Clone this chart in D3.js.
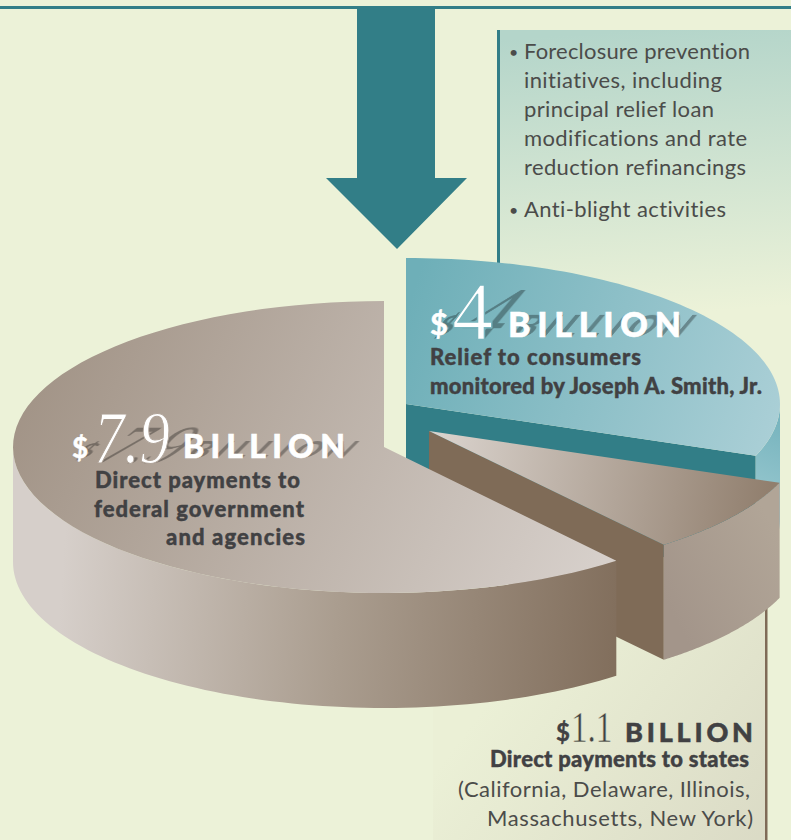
<!DOCTYPE html>
<html>
<head>
<meta charset="utf-8">
<title>Settlement allocation</title>
<script src="https://cdn.jsdelivr.net/npm/d3@7"></script>
<style>
html,body{margin:0;padding:0;background:#ecf2d8;overflow:hidden}
svg{display:block}
text{font-variant-ligatures:none;font-kerning:normal}
</style>
</head>
<body>
<svg id="chart" width="791" height="840"></svg>
<script>
// Allocation, in billions of dollars, in the order the slices run clockwise from 12 o'clock
const sliceKeys = ["consumers", "states", "federal"];
const sliceValues = [4, 1.1, 7.9];
const bulletLines = [
  "Foreclosure prevention", "initiatives, including", "principal relief loan",
  "modifications and rate", "reduction refinancings", "Anti-blight activities"
];
const consumerLines = ["Relief to consumers", "monitored by Joseph A. Smith, Jr."];
const federalLines = ["Direct payments to", "federal government", "and agencies"];
const stateHead = ["Direct payments to states"];
const stateLines = ["(California, Delaware, Illinois,", "Massachusetts, New York)"];
const unitWord = "BILLION";

const SANS = "Lato, 'Open Sans', sans-serif";
const SERIF = "'Liberation Serif', serif";
const INK = "#414143";
const BODY = "#4b4c4a";
const TEAL = "#327e87";

// Oblique view of the disc: ellipse radii and wall height
const RY = 146, DEPTH = 115;
const sliceGeom = {
  consumers: {cx: 406, cy: 404, rx: 374},
  states:    {cx: 429, cy: 431, rx: 375},
  federal:   {cx: 384, cy: 447, rx: 371}
};

const svg = d3.select("#chart");
const defs = svg.append("defs");

function gradient(id, x1, y1, x2, y2, stops) {
  const g = defs.append("linearGradient").attr("id", id)
    .attr("gradientUnits", "userSpaceOnUse")
    .attr("x1", x1).attr("y1", y1).attr("x2", x2).attr("y2", y2);
  stops.forEach(([o, c]) => g.append("stop").attr("offset", o).attr("stop-color", c));
}
gradient("panelTop", 640, 30, 660, 315, [[0, "#b4d5ca"], [1, "#ecf2d8"]]);
gradient("panelBottom", 520, 660, 770, 850, [[0, "#ebf0d6"], [1, "#dadac5"]]);
gradient("blueTop", 410, 300, 780, 420, [[0, "#6eafb8"], [1, "#aacfd6"]]);
gradient("blueWall", 780, 410, 750, 480, [[0, "#74b2bc"], [1, "#90c3cb"]]);
gradient("statesTop", 440, 440, 770, 490, [[0, "#d9d2cc"], [1, "#917f6e"]]);
gradient("statesWall", 665, 600, 780, 540, [[0, "#a3958a"], [1, "#b1a597"]]);
gradient("federalTop", 60, 320, 600, 570, [[0, "#a29487"], [1, "#d7d0cb"]]);
gradient("federalWall", 60, 600, 614, 640, [[0, "#d6cfca"], [0.5, "#aa9d8f"], [1, "#826f5d"]]);

const shadowBlur = defs.append("filter").attr("id", "soft");
shadowBlur.append("feGaussianBlur").attr("stdDeviation", 0.4);

// Backing panels, top rule and arrow
svg.append("rect").attr("x", 500).attr("y", 30).attr("width", 291).attr("height", 285).attr("fill", "url(#panelTop)");
svg.append("rect").attr("x", 497).attr("y", 30).attr("width", 3).attr("height", 235).attr("fill", TEAL);
svg.append("rect").attr("x", 433).attr("y", 590).attr("width", 333).attr("height", 250).attr("fill", "url(#panelBottom)");
svg.append("rect").attr("x", 765).attr("y", 590).attr("width", 2.5).attr("height", 250).attr("fill", "#7f6b57");
svg.append("rect").attr("x", 0).attr("y", 6).attr("width", 791).attr("height", 3).attr("fill", TEAL);
svg.append("path").attr("fill", TEAL)
  .attr("d", d3.line()([[357, 8], [435, 8], [435, 178], [467, 178], [397, 249], [326, 178], [357, 178]]) + "Z");

// Slices laid out with d3.pie, then projected onto the tilted ellipse
const arcs = d3.pie().sort(null).value(d => d)(sliceValues);
const rim = (g, a, dy = 0) => [g.cx + g.rx * Math.sin(a), g.cy - RY * Math.cos(a) + dy];
const line = d3.line();
const sweep = (a0, a1) => d3.range(0, 81).map(i => a0 + (a1 - a0) * i / 80);

function topFace(g, a0, a1) {
  return line([[g.cx, g.cy], ...sweep(a0, a1).map(a => rim(g, a))]) + "Z";
}
function wall(g, a0, a1) {
  const from = Math.max(a0, Math.PI / 2), to = Math.min(a1, 3 * Math.PI / 2);
  const upper = sweep(from, to).map(a => rim(g, a));
  const lower = sweep(to, from).map(a => rim(g, a, DEPTH));
  return line([...upper, ...lower]) + "Z";
}
function cutFace(g, a) {
  const r = rim(g, a);
  return line([[g.cx, g.cy], r, [r[0], r[1] + DEPTH], [g.cx, g.cy + DEPTH]]) + "Z";
}

const paint = {
  consumers: {top: "url(#blueTop)", wall: "url(#blueWall)", cut: TEAL},
  states: {top: "url(#statesTop)", wall: "url(#statesWall)", cut: "#7f6b57"},
  federal: {top: "url(#federalTop)", wall: "url(#federalWall)", cut: null}
};

// Painted back to front so nearer slices overlap the ones behind
arcs.forEach((arc, i) => {
  const key = sliceKeys[i], g = sliceGeom[key], p = paint[key];
  const layer = svg.append("g").attr("class", "slice " + key);
  if (p.cut) layer.append("path").attr("d", cutFace(g, arc.endAngle)).attr("fill", p.cut);
  layer.append("path").attr("d", wall(g, arc.startAngle, arc.endAngle)).attr("fill", p.wall);
  layer.append("path").attr("d", topFace(g, arc.startAngle, arc.endAngle)).attr("fill", p.top);
});

// Text helper: width is fitted to the set column by adjusting the letter spacing.
// "heavy" thickens a face with a thin stroke; "thin" pares it back with the ground colour.
function put(str, x, y, o) {
  const t = (o.parent || svg).append("text")
    .attr("x", x).attr("y", y)
    .attr("font-family", o.family || SANS)
    .attr("font-size", o.size)
    .attr("font-weight", o.weight || 400)
    .attr("font-style", o.style || "normal")
    .attr("fill", o.fill || INK)
    .text(str);
  if (o.width) t.attr("textLength", o.width).attr("lengthAdjust", "spacing");
  if (o.heavy) t.attr("stroke", o.fill || INK).attr("stroke-width", o.heavy);
  if (o.thin && !o.parent) t.attr("stroke", o.thinPaint).attr("stroke-width", o.thin);
  if (o.sx) t.attr("transform", `translate(${x},${y}) scale(${o.sx},1) translate(${-x},${-y})`);
  return t;
}

// A figure such as "$4 BILLION" with an optional slanted cast shadow
function headline(parts, shadow) {
  if (shadow) {
    parts.forEach(p => {
      const h = svg.append("g")
        .attr("transform", `translate(${p.x},${p.y}) skewX(${shadow.skew}) scale(${p.sx || 1},${shadow.sy})`)
        .attr("opacity", 0.3).attr("filter", "url(#soft)");
      put(p.str, 0, 0, {...p, parent: h, fill: "#000", sx: null, heavy: null});
    });
  }
  parts.forEach(p => put(p.str, p.x, p.y, p));
}

// Bulleted list
const bulletY = [59, 88, 117, 146, 175, 217];
bulletLines.forEach((s, i) => put(s, 524, bulletY[i], {size: 22, fill: BODY,
  width: [226, 198, 190, 223, 222, 202][i]}));
[59, 217].forEach(y => put("•", 509, y - 1, {size: 16, fill: BODY}));

// $4 billion
headline([
  {str: "$", x: 430, y: 335, size: 31, weight: 700, fill: "#fff", width: 18, heavy: 0.5},
  {str: "4", x: 452, y: 339, size: 82, family: SERIF, fill: "#fff", width: 43, thin: 1.4, thinPaint: "url(#blueTop)"},
  {str: unitWord, x: 508, y: 337, size: 34, weight: 900, fill: "#fff", width: 173, heavy: 0.6}
], {skew: -40, sy: 0.9});
consumerLines.forEach((s, i) => put(s, 430, 365 + 29 * i, {size: 22, weight: 900, width: [211, 332][i], heavy: 0.4}));

// $7.9 billion
headline([
  {str: "$", x: 72, y: 458, size: 28, weight: 700, fill: "#fff", width: 16, heavy: 0.5},
  {str: "7.9", x: 94, y: 463, size: 74, family: SERIF, style: "italic", fill: "#fff", sx: 0.82, thin: 1, thinPaint: "url(#federalTop)"},
  {str: unitWord, x: 183, y: 458, size: 32, weight: 900, fill: "#fff", width: 162, heavy: 0.6}
], {skew: -45, sy: 0.72});
const federalX = [95, 94, 166], federalW = [205, 210, 139];
federalLines.forEach((s, i) => put(s, federalX[i], 488 + 28.7 * i, {size: 22, weight: 900, width: federalW[i], heavy: 0.4}));

// $1.1 billion
headline([
  {str: "$", x: 556, y: 741, size: 24, weight: 700, width: 13, heavy: 0.4},
  {str: "1.1", x: 571, y: 742, size: 44, family: SERIF, sx: 0.75, thin: 0.5, thinPaint: "url(#panelBottom)"},
  {str: unitWord, x: 625, y: 742, size: 27, weight: 900, width: 128, heavy: 0.5}
], null);
put(stateHead[0], 490, 767, {size: 22, weight: 900, width: 259, heavy: 0.4});
put(stateLines[0], 458, 797, {size: 22, fill: BODY, width: 292});
put(stateLines[1], 487, 826, {size: 22, fill: BODY, width: 266});
</script>
</body>
</html>
